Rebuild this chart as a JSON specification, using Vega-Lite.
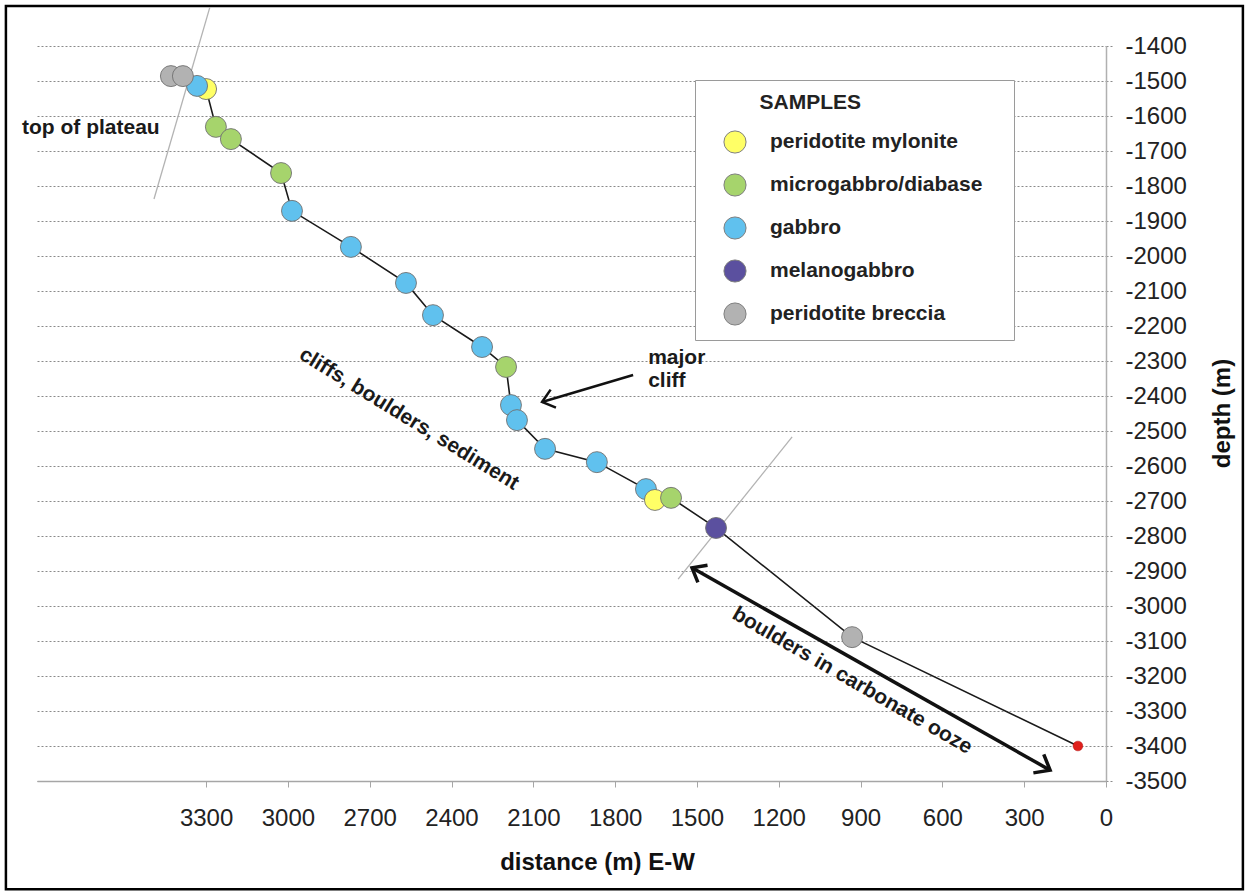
{
  "$schema": "https://vega.github.io/schema/vega-lite/v6.json",
  "width": 1069,
  "height": 735,
  "autosize": {"type": "none"},
  "padding": {"left": 37, "top": 46, "right": 142, "bottom": 113},
  "background": "#ffffff",
  "config": {"view": {"stroke": null}, "font": "Liberation Sans"},
  "datasets": {
    "samples": [
      {"seq": 4, "dist": 3300, "depth": -1523, "type": "peridotite mylonite"},
      {"seq": 3, "dist": 3333, "depth": -1514, "type": "gabbro"},
      {"seq": 1, "dist": 3429, "depth": -1486, "type": "peridotite breccia"},
      {"seq": 2, "dist": 3385, "depth": -1486, "type": "peridotite breccia"},
      {"seq": 5, "dist": 3264, "depth": -1631, "type": "microgabbro/diabase"},
      {"seq": 6, "dist": 3209, "depth": -1666, "type": "microgabbro/diabase"},
      {"seq": 7, "dist": 3025, "depth": -1763, "type": "microgabbro/diabase"},
      {"seq": 8, "dist": 2985, "depth": -1871, "type": "gabbro"},
      {"seq": 9, "dist": 2769, "depth": -1974, "type": "gabbro"},
      {"seq": 10, "dist": 2567, "depth": -2077, "type": "gabbro"},
      {"seq": 11, "dist": 2468, "depth": -2169, "type": "gabbro"},
      {"seq": 12, "dist": 2288, "depth": -2260, "type": "gabbro"},
      {"seq": 13, "dist": 2200, "depth": -2317, "type": "microgabbro/diabase"},
      {"seq": 14, "dist": 2182, "depth": -2426, "type": "gabbro"},
      {"seq": 15, "dist": 2160, "depth": -2469, "type": "gabbro"},
      {"seq": 16, "dist": 2057, "depth": -2551, "type": "gabbro"},
      {"seq": 17, "dist": 1867, "depth": -2589, "type": "gabbro"},
      {"seq": 18, "dist": 1687, "depth": -2666, "type": "gabbro"},
      {"seq": 19, "dist": 1654, "depth": -2697, "type": "peridotite mylonite"},
      {"seq": 20, "dist": 1595, "depth": -2691, "type": "microgabbro/diabase"},
      {"seq": 21, "dist": 1430, "depth": -2777, "type": "melanogabbro"},
      {"seq": 22, "dist": 931, "depth": -3089, "type": "peridotite breccia"},
      {"seq": 23, "dist": 103, "depth": -3400, "type": "end"}
    ],
    "guides": [
      {"g": "a", "k": 1, "dist": 3286, "depth": -1289},
      {"g": "a", "k": 2, "dist": 3491, "depth": -1837},
      {"g": "b", "k": 1, "dist": 1151, "depth": -2517},
      {"g": "b", "k": 2, "dist": 1569, "depth": -2923}
    ],
    "arrows": [
      {"g": "cliff", "k": 1, "dist": 1734, "depth": -2340},
      {"g": "cliff", "k": 2, "dist": 2068, "depth": -2417},
      {"g": "ooze", "k": 1, "dist": 1518, "depth": -2891},
      {"g": "ooze", "k": 2, "dist": 205, "depth": -3469}
    ],
    "heads": [
      {"id": "cliff", "dist": 2068, "depth": -2417},
      {"id": "ooze_end", "dist": 205, "depth": -3469},
      {"id": "ooze_start", "dist": 1518, "depth": -2891}
    ],
    "labels": [
      {"id": "plateau", "dist": 3975, "depth": -1634, "label": "top of plateau"},
      {"id": "major", "dist": 1679, "depth": -2291, "label": "major"},
      {"id": "cliff", "dist": 1679, "depth": -2357, "label": "cliff"},
      {"id": "cbs", "dist": 2556, "depth": -2466, "label": "cliffs, boulders, sediment"},
      {"id": "bco", "dist": 931, "depth": -3214, "label": "boulders in carbonate ooze"}
    ],
    "frame": [
      {"dist": 4034, "dist2": -502, "depth": -1286, "depth2": -3809}
    ]
  },
  "encoding": {
    "x": {
      "field": "dist",
      "type": "quantitative",
      "scale": {"domain": [0, 3920], "reverse": true, "nice": false, "zero": false},
      "axis": {
        "orient": "bottom",
        "values": [0, 300, 600, 900, 1200, 1500, 1800, 2100, 2400, 2700, 3000, 3300],
        "grid": false,
        "domainColor": "#a6a6a6",
        "domainWidth": 1.5,
        "tickColor": "#a6a6a6",
        "tickSize": 6,
        "tickWidth": 1,
        "labelFontSize": 24,
        "labelColor": "#222222",
        "labelPadding": 19,
        "labelFlush": false,
        "labelOverlap": false,
        "labelExpr": "'' + datum.value",
        "title": "distance (m) E-W",
        "titleFontSize": 24,
        "titleFontWeight": "bold",
        "titleColor": "#111111",
        "titleX": 560,
        "titleY": 88,
        "titleAlign": "center",
        "titleBaseline": "alphabetic"
      }
    },
    "y": {
      "field": "depth",
      "type": "quantitative",
      "scale": {"domain": [-3500, -1400], "nice": false, "zero": false},
      "axis": {
        "orient": "right",
        "values": [-3500, -3400, -3300, -3200, -3100, -3000, -2900, -2800, -2700, -2600, -2500, -2400, -2300, -2200, -2100, -2000, -1900, -1800, -1700, -1600, -1500, -1400],
        "grid": true,
        "gridColor": "#8a8a8a",
        "gridDash": [2, 2],
        "gridWidth": 1,
        "domainColor": "#b0b0b0",
        "domainWidth": 1.5,
        "tickColor": "#8a8a8a",
        "tickDash": [2, 2],
        "tickSize": 6,
        "labelFontSize": 24,
        "labelColor": "#222222",
        "labelPadding": 13,
        "labelFlush": false,
        "labelOverlap": false,
        "labelExpr": "'' + datum.value",
        "title": "depth (m)",
        "titleFontSize": 24,
        "titleFontWeight": "bold",
        "titleColor": "#111111",
        "titleAngle": 270,
        "titleX": 104,
        "titleY": 367,
        "titleAlign": "center",
        "titleBaseline": "top"
      }
    }
  },
  "layer": [
    {
      "data": {"name": "frame"},
      "mark": {"type": "rect", "fillOpacity": 0, "stroke": "#000000", "strokeWidth": 2.5},
      "encoding": {"x2": {"field": "dist2"}, "y2": {"field": "depth2"}}
    },
    {
      "data": {"name": "guides"},
      "mark": {"type": "line", "color": "#b3b3b3", "strokeWidth": 1.3},
      "encoding": {"detail": {"field": "g"}, "order": {"field": "k", "type": "quantitative"}}
    },
    {
      "data": {"name": "samples"},
      "mark": {"type": "line", "color": "#1a1a1a", "strokeWidth": 1.6},
      "encoding": {"order": {"field": "seq", "type": "quantitative"}}
    },
    {
      "data": {"name": "samples"},
      "transform": [{"filter": "datum.type != 'end'"}],
      "mark": {"type": "point", "shape": "circle", "filled": true, "opacity": 1, "size": 440, "stroke": "#707070", "strokeWidth": 0.9},
      "encoding": {
        "fill": {
          "field": "type",
          "type": "nominal",
          "scale": {
            "domain": ["peridotite mylonite", "microgabbro/diabase", "gabbro", "melanogabbro", "peridotite breccia"],
            "range": ["#ffff66", "#a6d46c", "#60c1ee", "#5b509f", "#b2b2b2"]
          },
          "legend": {
            "title": "\u200b\u00a0\u00a0\u00a0\u00a0\u00a0\u00a0\u00a0\u00a0\u00a0SAMPLES\u00a0\u00a0\u00a0\u00a0\u00a0\u00a0\u00a0\u00a0\u00a0\u00a0\u00a0\u00a0\u00a0\u00a0\u00a0\u00a0\u00a0\u00a0\u00a0\u00a0\u00a0\u00a0\u00a0\u00a0\u200b",
            "orient": "none",
            "legendX": 658,
            "legendY": 34,
            "padding": 12,
            "strokeColor": "#9a9a9a",
            "fillColor": "#ffffff",
            "titleFont": "Liberation Sans",
            "titleFontSize": 21,
            "titleFontWeight": "bold",
            "titleColor": "#222222",
            "titleLimit": 600,
            "titlePadding": 17,
            "labelFont": "Liberation Sans",
            "labelFontSize": 21,
            "labelFontWeight": "bold",
            "labelColor": "#222222",
            "labelLimit": 400,
            "labelOffset": 23,
            "symbolType": "circle",
            "symbolSize": 490,
            "symbolStrokeColor": "#808080",
            "symbolStrokeWidth": 1,
            "symbolOpacity": 1,
            "symbolOffset": 16,
            "rowPadding": 15
          }
        }
      }
    },
    {
      "data": {"name": "samples"},
      "transform": [{"filter": "datum.type == 'end'"}],
      "mark": {"type": "point", "shape": "circle", "filled": true, "opacity": 1, "size": 95, "color": "#e0201c", "stroke": "#b01010", "strokeWidth": 0.5}
    },
    {
      "data": {"name": "arrows"},
      "transform": [{"filter": "datum.g == 'cliff'"}],
      "mark": {"type": "line", "color": "#111111", "strokeWidth": 2.5},
      "encoding": {"order": {"field": "k", "type": "quantitative"}}
    },
    {
      "data": {"name": "arrows"},
      "transform": [{"filter": "datum.g == 'ooze'"}],
      "mark": {"type": "line", "color": "#111111", "strokeWidth": 3.5},
      "encoding": {"order": {"field": "k", "type": "quantitative"}}
    },
    {
      "data": {"name": "heads"},
      "transform": [{"filter": "datum.id == 'cliff'"}],
      "mark": {"type": "point", "shape": "M-1,-0.8L0,0L-1,0.8", "filled": false, "opacity": 1, "stroke": "#111111", "strokeWidth": 2.5, "strokeJoin": "miter", "size": 550, "angle": 163.5}
    },
    {
      "data": {"name": "heads"},
      "transform": [{"filter": "datum.id == 'ooze_end'"}],
      "mark": {"type": "point", "shape": "M-1,-0.8L0,0L-1,0.8", "filled": false, "opacity": 1, "stroke": "#111111", "strokeWidth": 3.5, "strokeJoin": "miter", "size": 700, "angle": 29.4}
    },
    {
      "data": {"name": "heads"},
      "transform": [{"filter": "datum.id == 'ooze_start'"}],
      "mark": {"type": "point", "shape": "M-1,-0.8L0,0L-1,0.8", "filled": false, "opacity": 1, "stroke": "#111111", "strokeWidth": 3.5, "strokeJoin": "miter", "size": 600, "angle": 209.4}
    },
    {
      "data": {"name": "labels"},
      "transform": [{"filter": "datum.id == 'plateau' || datum.id == 'major' || datum.id == 'cliff'"}],
      "mark": {"type": "text", "font": "Liberation Sans", "fontSize": 21, "fontWeight": "bold", "color": "#1a1a1a", "align": "left", "baseline": "middle"},
      "encoding": {"text": {"field": "label"}}
    },
    {
      "data": {"name": "labels"},
      "transform": [{"filter": "datum.id == 'cbs'"}],
      "mark": {"type": "text", "font": "Liberation Sans", "fontSize": 21, "fontWeight": "bold", "color": "#1a1a1a", "align": "center", "baseline": "middle", "angle": 31.5},
      "encoding": {"text": {"field": "label"}}
    },
    {
      "data": {"name": "labels"},
      "transform": [{"filter": "datum.id == 'bco'"}],
      "mark": {"type": "text", "font": "Liberation Sans", "fontSize": 21, "fontWeight": "bold", "color": "#1a1a1a", "align": "center", "baseline": "middle", "angle": 30},
      "encoding": {"text": {"field": "label"}}
    }
  ]
}
